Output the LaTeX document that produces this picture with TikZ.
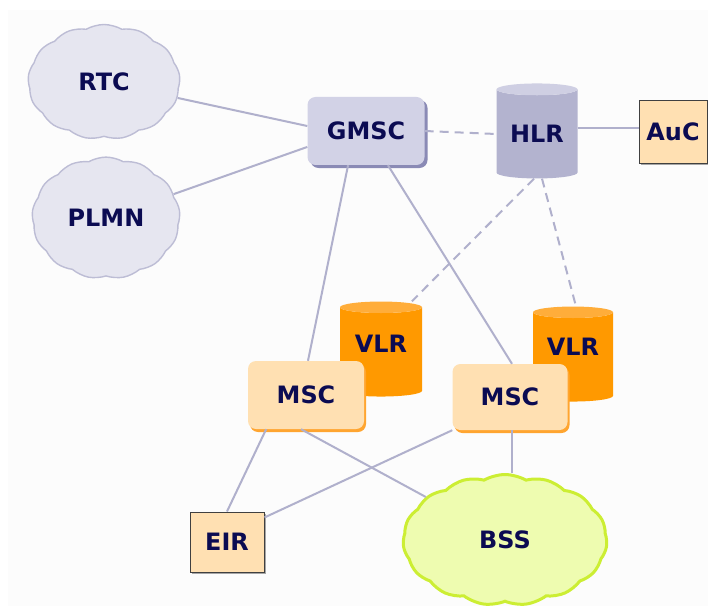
\documentclass[tikz,border=0pt]{standalone}
\usepackage{fontspec}
\setmainfont{DejaVu Sans}
\usetikzlibrary{shapes.geometric,shapes.symbols,shadows,positioning}

\definecolor{ink}{HTML}{0B0B52}
\definecolor{linkc}{HTML}{B0B0CC}
\definecolor{cloudfill}{HTML}{E6E6F0}
\definecolor{cloudline}{HTML}{BDBDD5}
\definecolor{gmscfill}{HTML}{D2D2E6}
\definecolor{gmscshade}{HTML}{8A8AB5}
\definecolor{hlrbody}{HTML}{B3B3CF}
\definecolor{hlrtop}{HTML}{CFCFE3}
\definecolor{boxfill}{HTML}{FFE0B2}
\definecolor{vlrbody}{HTML}{FF9900}
\definecolor{vlrtop}{HTML}{FFAD3A}
\definecolor{mscshade}{HTML}{FFA530}
\definecolor{bssfill}{HTML}{EEFCB0}
\definecolor{bssline}{HTML}{CCEE33}

\tikzset{
  netcloud/.style={cloud,cloud puffs=13,cloud puff arc=60,draw=cloudline,fill=cloudfill,line width=1.4bp},
  switchbox/.style={rectangle,rounded corners=8bp,inner sep=0pt},
  regdb/.style={cylinder,shape border rotate=90,aspect=0.22,inner sep=0pt,cylinder uses custom fill},
  smallbox/.style={rectangle,draw=black!75,line width=1bp,fill=boxfill,inner sep=0pt,
    drop shadow={shadow xshift=2bp,shadow yshift=-2bp,fill=black!35,opacity=1}},
  link/.style={draw=linkc,line width=2bp},
  dashlink/.style={link,dash pattern=on 9bp off 6bp}
}

\begin{document}
\begin{tikzpicture}[x=1bp,y=-1bp,every node/.style={font=\fontsize{24}{26}\selectfont\bfseries,text=ink}]
  \fill[white] (0,0) rectangle (708,606);
  \fill[black!1] (8,10) rectangle (708,606);
  \useasboundingbox (0,0) rectangle (708,606);

  % networks outside
  \node[netcloud,minimum width=152bp,minimum height=115bp] (rtc) at (104,82) {RTC};
  \node[netcloud,minimum width=148bp,minimum height=115bp] (plmn) at (106,218) {PLMN};

  % core
  \node[switchbox,fill=gmscfill,minimum width=117bp,minimum height=68bp,
    drop shadow={shadow xshift=3bp,shadow yshift=-3bp,fill=gmscshade,opacity=1}] (gmsc) at (366,131) {GMSC};
  \node[regdb,cylinder body fill=hlrbody,cylinder end fill=hlrtop,minimum width=81bp,minimum height=95bp] (hlr) at (537,134) {HLR};
  \node[smallbox,minimum width=68bp,minimum height=63bp] (auc) at (673,132) {AuC};

  % visitor registers and switches
  \node[regdb,cylinder body fill=vlrbody,cylinder end fill=vlrtop,minimum width=82bp,minimum height=95bp,text depth=16bp] (vlr1) at (381,352) {VLR};
  \node[regdb,cylinder body fill=vlrbody,cylinder end fill=vlrtop,minimum width=80bp,minimum height=95bp,text depth=20bp] (vlr2) at (573,357) {VLR};
  \node[switchbox,fill=boxfill,minimum width=116bp,minimum height=68bp,
    drop shadow={shadow xshift=2bp,shadow yshift=-3bp,fill=mscshade,opacity=1}] (msc1) at (306,395) {MSC};
  \node[switchbox,fill=boxfill,minimum width=115bp,minimum height=66bp,
    drop shadow={shadow xshift=2bp,shadow yshift=-3bp,fill=mscshade,opacity=1}] (msc2) at (510,397) {MSC};

  \node[smallbox,minimum width=74bp,minimum height=60bp] (eir) at (227,542) {EIR};
  \node[cloud,cloud puffs=15,cloud puff arc=60,draw=bssline,fill=bssfill,line width=3bp,
    minimum width=204bp,minimum height=131bp] (bss) at (505,540) {BSS};

  % links
  \draw[link] (rtc) -- ([yshift=5]gmsc.west);
  \draw[link] (plmn) -- ([yshift=-16]gmsc.west);
  \draw[dashlink] (gmsc.east) -- (hlr.west);
  \draw[link] ([yshift=4]auc.west -| hlr.east) -- ([yshift=4]auc.west);
  \draw[link] ([xshift=-18]gmsc.south) -- ([xshift=2]msc1.north);
  \draw[link] ([xshift=22]gmsc.south) -- ([xshift=2]msc2.north);
  \draw[dashlink] ([xshift=-3]hlr.south) -- ([xshift=31]vlr1.north);
  \draw[dashlink] ([xshift=5]hlr.south) -- ([xshift=3]vlr2.north);
  \draw[link] ([xshift=-40]msc1.south) -- (eir.north);
  \draw[link] ([xshift=-5]msc1.south) -- (bss);
  \draw[link] (msc2.south west) -- ([yshift=-6]eir.north east);
  \draw[link] ([xshift=2]msc2.south) -- ([xshift=2]msc2.south |- bss.north);
\end{tikzpicture}
\end{document}
